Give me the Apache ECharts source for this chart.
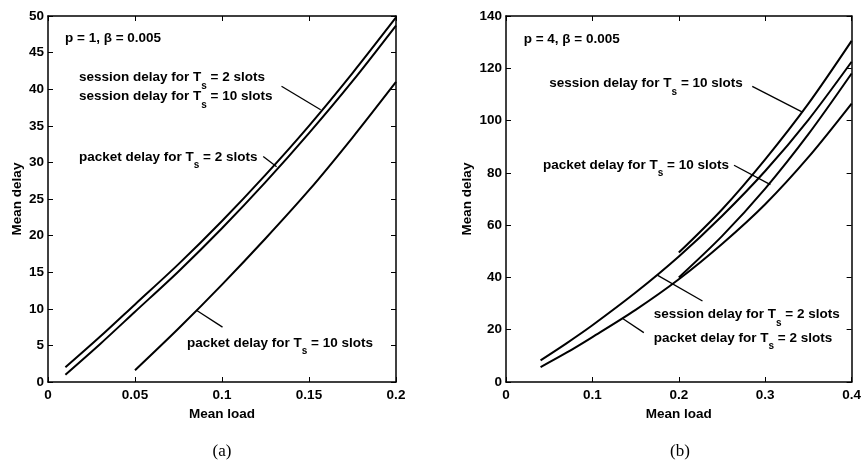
<!DOCTYPE html>
<html>
<head>
<meta charset="utf-8">
<script src="https://cdn.jsdelivr.net/npm/echarts@6/dist/echarts.min.js"></script>
<style>
  html, body { margin: 0; padding: 0; background: #fff; }
  #chart { width: 864px; height: 469px; }
</style>
</head>
<body>
<div id="chart"></div>
<script>
// ---- panel (a): p = 1, beta = 0.005 ----
const ticksLoadA  = [0, 0.05, 0.1, 0.15, 0.2];
const ticksDelayA = [0, 5, 10, 15, 20, 25, 30, 35, 40, 45, 50];

// session delay (Ts = 2 and Ts = 10 coincide)
const loadA_session  = [0.01, 0.03, 0.05, 0.075, 0.1, 0.125, 0.15, 0.175, 0.2];
const delayA_session = [2.0, 6.2, 10.6, 16.1, 22.0, 28.3, 35.0, 42.2, 49.8];
// packet delay, Ts = 2 slots
const loadA_packet2  = [0.01, 0.03, 0.05, 0.075, 0.1, 0.125, 0.15, 0.175, 0.2];
const delayA_packet2 = [1.0, 5.2, 9.6, 15.1, 21.0, 27.3, 34.0, 41.1, 48.7];
// packet delay, Ts = 10 slots
const loadA_packet10  = [0.05, 0.075, 0.1, 0.125, 0.15, 0.175, 0.2];
const delayA_packet10 = [1.6, 7.3, 13.3, 19.6, 26.2, 33.4, 41.0];

// ---- panel (b): p = 4, beta = 0.005 ----
const ticksLoadB  = [0, 0.1, 0.2, 0.3, 0.4];
const ticksDelayB = [0, 20, 40, 60, 80, 100, 120, 140];

const loadB_session10  = [0.2, 0.25, 0.3, 0.35, 0.4];
const delayB_session10 = [49.5, 66.0, 85.2, 106.5, 130.5];
const loadB_session2   = [0.04, 0.07, 0.1, 0.15, 0.2, 0.25, 0.3, 0.35, 0.4];
const delayB_session2  = [8.3, 14.8, 21.7, 34.2, 48.0, 63.5, 80.7, 100.3, 122.5];
const loadB_packet10   = [0.2, 0.25, 0.3, 0.35, 0.4];
const delayB_packet10  = [40.0, 55.8, 74.0, 94.8, 118.0];
const loadB_packet2    = [0.04, 0.07, 0.1, 0.15, 0.2, 0.25, 0.3, 0.35, 0.4];
const delayB_packet2   = [5.7, 11.2, 17.2, 27.6, 39.3, 52.8, 68.0, 86.0, 106.5];

// leader lines from the annotations to the curves: [[x1, y1], [x2, y2]]
const leadersA = [
  [[0.1342, 40.4], [0.1567, 37.2]],
  [[0.1237, 30.8], [0.1314, 29.4]],
  [[0.1003, 7.5],  [0.0853, 9.8]]
];
const leadersB = [
  [[0.285, 113.1], [0.3425, 103.3]],
  [[0.2639, 82.9], [0.306, 75.5]],
  [[0.2274, 31.0], [0.1756, 40.8]],
  [[0.1595, 18.9], [0.1354, 24.2]]
];

const FONT = 'Liberation Sans, Arial, Helvetica, sans-serif';
const pairs = (xs, ys) => xs.map((x, i) => [x, ys[i]]);

const chart = echarts.init(document.getElementById('chart'), null, { renderer: 'canvas' });

const grids = [
  { left: 48, top: 16, width: 348, height: 366 },
  { left: 506, top: 16, width: 348, height: 366 }
];

function xAxes(gi, ticks) {
  const base = {
    gridIndex: gi, type: 'value',
    min: ticks[0], max: ticks[ticks.length - 1], interval: ticks[1] - ticks[0],
    axisLine: { show: true, onZero: false, lineStyle: { color: '#000', width: 1.5 } },
    axisTick: { show: true, inside: true, length: 5, lineStyle: { color: '#000', width: 1 } },
    splitLine: { show: false }
  };
  return [
    Object.assign({}, base, {
      position: 'bottom',
      name: 'Mean load', nameLocation: 'middle', nameGap: 20,
      nameTextStyle: { color: '#000', fontWeight: 'bold', fontSize: 13.5, fontFamily: FONT },
      axisLabel: { show: true, margin: 6, color: '#000', fontWeight: 'bold', fontSize: 13.5, fontFamily: FONT }
    }),
    Object.assign({}, base, { position: 'top', axisLabel: { show: false } })
  ];
}

function yAxes(gi, ticks, nameGap) {
  const base = {
    gridIndex: gi, type: 'value',
    min: ticks[0], max: ticks[ticks.length - 1], interval: ticks[1] - ticks[0],
    axisLine: { show: true, onZero: false, lineStyle: { color: '#000', width: 1.5 } },
    axisTick: { show: true, inside: true, length: 5, lineStyle: { color: '#000', width: 1 } },
    splitLine: { show: false }
  };
  return [
    Object.assign({}, base, {
      position: 'left',
      name: 'Mean delay', nameLocation: 'middle', nameGap: nameGap,
      nameTextStyle: { color: '#000', fontWeight: 'bold', fontSize: 13.5, fontFamily: FONT },
      axisLabel: { show: true, margin: 4, color: '#000', fontWeight: 'bold', fontSize: 13.5, fontFamily: FONT }
    }),
    Object.assign({}, base, { position: 'right', axisLabel: { show: false } })
  ];
}

function curve(xi, yi, xs, ys, leaders) {
  const s = {
    type: 'line', xAxisIndex: xi, yAxisIndex: yi,
    data: pairs(xs, ys),
    showSymbol: false, smooth: 0.3,
    lineStyle: { color: '#000', width: 2 },
    silent: true, animation: false
  };
  if (leaders) {
    s.markLine = {
      silent: true, symbol: 'none', animation: false,
      label: { show: false },
      lineStyle: { color: '#000', width: 1.3, type: 'solid' },
      data: leaders.map(l => [{ coord: l[0] }, { coord: l[1] }])
    };
  }
  return s;
}

const rich = {
  m: { fontSize: 13.5, fontWeight: 'bold', fontFamily: FONT, fill: '#000', color: '#000' },
  s: { fontSize: 10, fontWeight: 'bold', fontFamily: FONT, fill: '#000', color: '#000', padding: [17, 0, 0, 0] }
};

function tsLabel(x, y, pre, post) {
  return {
    type: 'text', x: x, y: y, silent: true,
    style: {
      text: '{m|' + pre + '}{s|s}{m|' + post + '}',
      rich: rich, fill: '#000', verticalAlign: 'middle', align: 'left'
    }
  };
}
function plainLabel(x, y, txt, font) {
  return {
    type: 'text', x: x, y: y, silent: true,
    style: { text: txt, font: font, fill: '#000', verticalAlign: 'middle', align: 'left' }
  };
}
function caption(x, y, txt) {
  return {
    type: 'text', x: x, y: y, silent: true,
    style: { text: txt, font: '17px "Liberation Serif", "DejaVu Serif", serif', fill: '#000', verticalAlign: 'middle', align: 'center' }
  };
}

const boldFont = 'bold 13.5px ' + FONT;

chart.setOption({
  backgroundColor: '#fff',
  animation: false,
  grid: grids,
  xAxis: [].concat(xAxes(0, ticksLoadA), xAxes(1, ticksLoadB)),
  yAxis: [].concat(yAxes(0, ticksDelayA, 24), yAxes(1, ticksDelayB, 32)),
  series: [
    curve(0, 0, loadA_session, delayA_session, leadersA),
    curve(0, 0, loadA_packet2, delayA_packet2),
    curve(0, 0, loadA_packet10, delayA_packet10),
    curve(2, 2, loadB_session10, delayB_session10, leadersB),
    curve(2, 2, loadB_session2, delayB_session2),
    curve(2, 2, loadB_packet10, delayB_packet10),
    curve(2, 2, loadB_packet2, delayB_packet2)
  ],
  graphic: [
    plainLabel(65, 38.5, 'p = 1, \u03b2 = 0.005', boldFont),
    tsLabel(79, 77.7, 'session delay for T', ' = 2 slots'),
    tsLabel(79, 96.7, 'session delay for T', ' = 10 slots'),
    tsLabel(79, 156.8, 'packet delay for T', ' = 2 slots'),
    tsLabel(187, 342.8, 'packet delay for T', ' = 10 slots'),
    plainLabel(523.7, 39.5, 'p = 4, \u03b2 = 0.005', boldFont),
    tsLabel(549.3, 83.3, 'session delay for T', ' = 10 slots'),
    tsLabel(543, 165, 'packet delay for T', ' = 10 slots'),
    tsLabel(653.7, 314.5, 'session delay for T', ' = 2 slots'),
    tsLabel(653.7, 337.8, 'packet delay for T', ' = 2 slots'),
    caption(222, 452, '(a)'),
    caption(680, 452, '(b)')
  ]
});
</script>
</body>
</html>
